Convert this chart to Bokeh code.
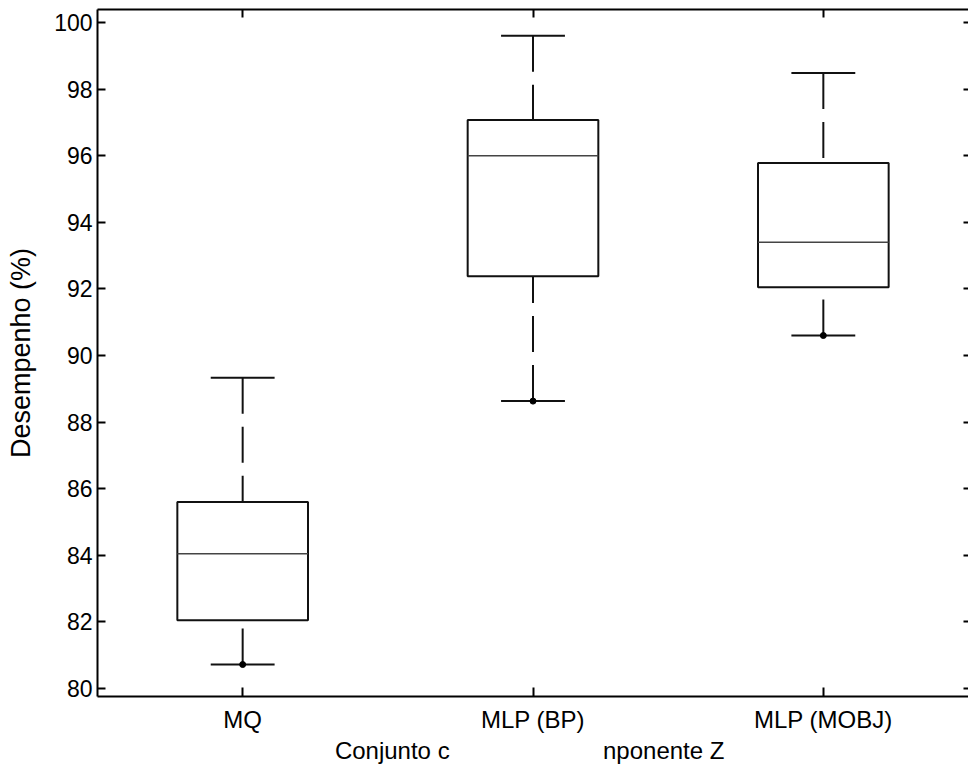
from bokeh.plotting import figure
from bokeh.models import (FactorRange, Range1d, LinearAxis, CategoricalAxis,
                          FixedTicker, ColumnDataSource, CustomJSTickFormatter)
from bokeh.transform import dodge
from bokeh.embed import file_html
from bokeh.resources import INLINE

# ---- data ----
categories = ["MQ", "MLP (BP)", "MLP (MOBJ)"]
q1 = [82.05, 92.38, 92.05]
median = [84.05, 96.00, 93.40]
q3 = [85.60, 97.07, 95.78]
whisker_low = [80.72, 88.63, 90.60]
whisker_high = [89.33, 99.60, 98.48]
y_ticks = [80, 82, 84, 86, 88, 90, 92, 94, 96, 98, 100]
y_label = "Desempenho (%)"
x_label_parts = ["Conjunto c", "nponente Z"]   # middle of the title is hidden in the original

FONT = "Liberation Sans"
NBSP = "\u00a0"

src = ColumnDataSource(dict(cat=categories, q1=q1, med=median, q3=q3,
                            lo=whisker_low, hi=whisker_high))

p = figure(width=968, height=767,
           x_range=FactorRange(factors=categories, range_padding=0),
           y_range=Range1d(79.76, 100.39),
           output_backend="svg", toolbar_location=None,
           min_border_left=97, min_border_right=0,
           min_border_top=9, min_border_bottom=71)

p.background_fill_color = "white"
p.border_fill_color = "white"
p.outline_line_color = None
p.grid.visible = False

# left axis
ya = p.yaxis[0]
ya.ticker = FixedTicker(ticks=y_ticks)
ya.minor_tick_line_color = None
ya.major_tick_in = 8
ya.major_tick_out = 0
ya.major_tick_line_width = 2
ya.axis_line_width = 2
ya.axis_line_color = "black"
ya.major_tick_line_color = "black"
ya.major_label_text_font = FONT
ya.major_label_text_font_size = "23px"
ya.major_label_text_color = "black"
ya.major_label_standoff = 5
ya.axis_label = y_label
ya.axis_label_text_font = FONT
ya.axis_label_text_font_size = "27px"
ya.axis_label_text_font_style = "normal"
ya.axis_label_text_color = "black"
ya.axis_label_standoff = 15

# bottom axis
xa = p.xaxis[0]
xa.major_tick_in = 9
xa.major_tick_out = 0
xa.major_tick_line_width = 2
xa.axis_line_width = 2
xa.axis_line_color = "black"
xa.major_tick_line_color = "black"
xa.major_label_text_font = FONT
xa.major_label_text_font_size = "24px"
xa.major_label_text_color = "black"
xa.major_label_standoff = 9
xa.axis_label = x_label_parts[0] + NBSP * 23 + x_label_parts[1] + NBSP
xa.axis_label_text_font = FONT
xa.axis_label_text_font_size = "24px"
xa.axis_label_text_font_style = "normal"
xa.axis_label_text_color = "black"
xa.axis_label_standoff = 1

# top axis (line + inward ticks, no labels)
top = CategoricalAxis(major_tick_in=8, major_tick_out=0, major_tick_line_width=2,
                      axis_line_width=2, axis_line_color="black",
                      formatter=CustomJSTickFormatter(code="return ''"),
                      major_label_standoff=0)
p.add_layout(top, "above")

# right axis (inward ticks only)
right = LinearAxis(ticker=FixedTicker(ticks=y_ticks), major_tick_in=5, major_tick_out=0,
                   major_tick_line_width=2, axis_line_color=None,
                   minor_tick_line_color=None,
                   major_label_overrides={t: "" for t in y_ticks},
                   major_label_standoff=0)
p.add_layout(right, "right")

# whiskers (dashed, starting from caps)
p.segment(x0="cat", y0="hi", x1="cat", y1="q3", source=src,
          line_color="#111111", line_width=2, line_dash="36 13")
p.segment(x0="cat", y0="lo", x1="cat", y1="q1", source=src,
          line_color="#111111", line_width=2, line_dash="36 13")

# caps
p.segment(x0=dodge("cat", -0.11, range=p.x_range), y0="hi",
          x1=dodge("cat", 0.11, range=p.x_range), y1="hi", source=src,
          line_color="#111111", line_width=2)
p.segment(x0=dodge("cat", -0.11, range=p.x_range), y0="lo",
          x1=dodge("cat", 0.11, range=p.x_range), y1="lo", source=src,
          line_color="#111111", line_width=2)

# boxes
p.vbar(x="cat", width=0.45, bottom="q1", top="q3", source=src,
       fill_color="white", line_color="#111111", line_width=2)

# medians
p.segment(x0=dodge("cat", -0.225, range=p.x_range), y0="med",
          x1=dodge("cat", 0.225, range=p.x_range), y1="med", source=src,
          line_color="#444444", line_width=1.5)

# dots at lower whisker ends
p.scatter(x="cat", y="lo", source=src, size=6, fill_color="black", line_color="black")

open("out.html", "w").write(file_html(p, INLINE))
